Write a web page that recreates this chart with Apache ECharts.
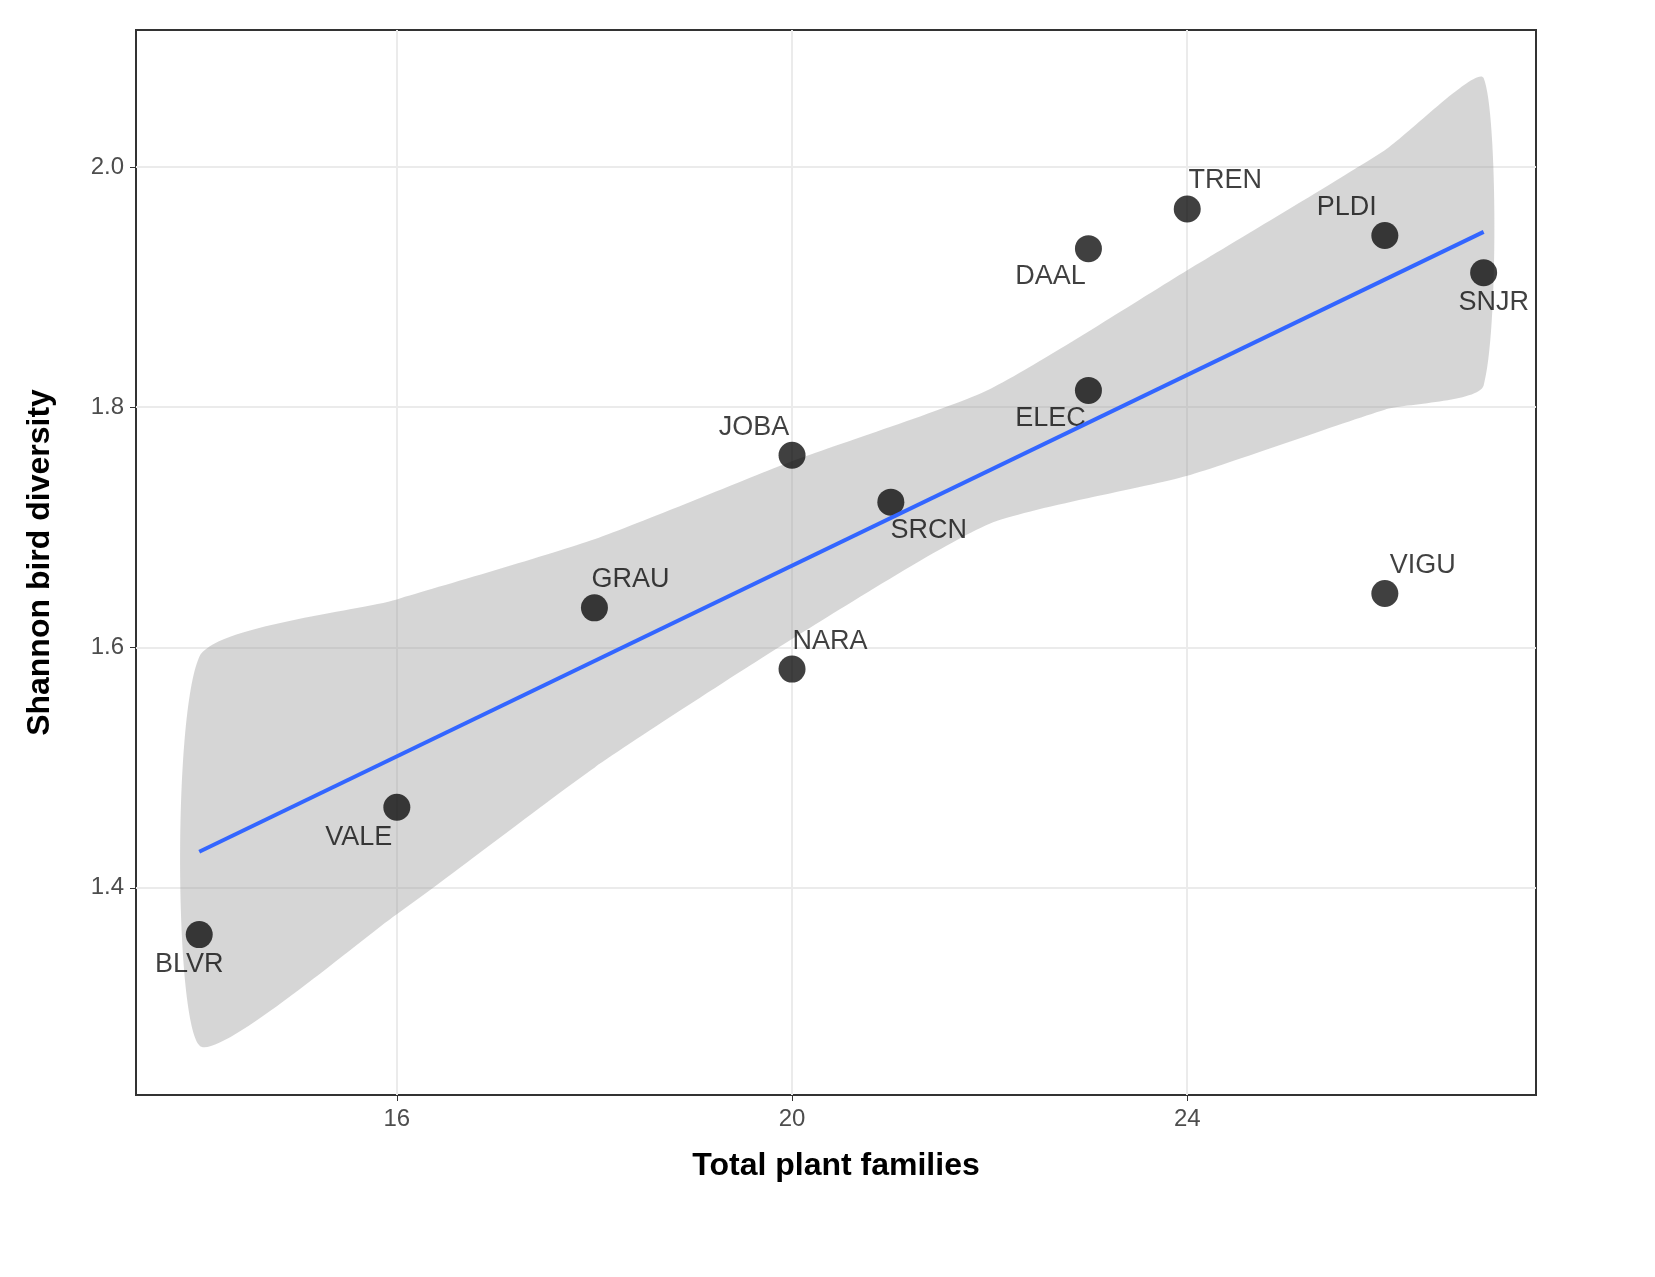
<!DOCTYPE html>
<html>
<head>
<meta charset="utf-8">
<script src="https://cdn.jsdelivr.net/npm/echarts@6/dist/echarts.min.js"></script>
<style>html,body{margin:0;padding:0;background:#fff}#c{width:1655px;height:1277px}</style>
</head>
<body>
<div id="c"></div>
<script>
const sites = ["BLVR","VALE","GRAU","NARA","JOBA","SRCN","ELEC","DAAL","TREN","PLDI","VIGU","SNJR"]
const families = [14,16,18,20,20,21,23,23,24,26,26,27]
const diversity = [1.361,1.467,1.633,1.582,1.760,1.721,1.814,1.932,1.965,1.943,1.645,1.912]
// label placement per site: [dx, dy]
const labelOffsets = [[-10,30],[-38,30],[36,-28],[38,-28],[-38,-28],[38,28],[-38,28],[-38,28],[38,-28],[-38,-28],[38,-28],[10,30]]

const fitX = [14,27]
const fitY = [1.430,1.946]
const bandX = [14,16,18,20,22,24,26,27]
const bandLow = [1.269,1.378,1.500,1.607,1.703,1.743,1.798,1.818]
const bandHigh = [1.592,1.640,1.690,1.755,1.815,1.914,2.014,2.074]

const xTicks = [16,20,24]
const yTicks = [1.4,1.6,1.8,2.0]

const font = "Liberation Sans, Arial, sans-serif"
const chart = echarts.init(document.getElementById("c"))

const axisCommon = {
    axisLine: {show: false},
    axisTick: {show: true, length: 6, lineStyle: {color: "#333"}},
    splitLine: {show: true, lineStyle: {color: "#ebebeb", width: 2}},
    nameLocation: "middle",
    nameTextStyle: {fontFamily: font, fontWeight: "bold", fontSize: 32, color: "#000"}
}

chart.setOption({
    animation: false,
    grid: {left: 136, right: 119, top: 30, bottom: 182, show: true, borderColor: "#333", borderWidth: 2, backgroundColor: "#fff"},
    xAxis: Object.assign({}, axisCommon, {
        type: "value", min: 13.36, max: 27.53,
        name: "Total plant families", nameGap: 55,
        axisTick: Object.assign({}, axisCommon.axisTick, {customValues: xTicks}),
        axisLabel: {customValues: xTicks, fontFamily: font, fontSize: 24, color: "#4d4d4d", margin: 12}
    }),
    yAxis: Object.assign({}, axisCommon, {
        type: "value", min: 1.2275, max: 2.114,
        name: "Shannon bird diversity", nameGap: 80,
        axisTick: Object.assign({}, axisCommon.axisTick, {customValues: yTicks}),
        axisLabel: {customValues: yTicks, fontFamily: font, fontSize: 24, color: "#4d4d4d", margin: 12,
            formatter: v => v.toFixed(1)}
    }),
    series: [
        {
            type: "custom", silent: true,
            data: bandX.map((x, i) => [x, bandLow[i], bandHigh[i]]),
            renderItem: (params, api) => {
                if (params.dataIndex !== 0) return null
                const upper = bandX.map((x, i) => api.coord([x, bandHigh[i]]))
                const lower = bandX.map((x, i) => api.coord([x, bandLow[i]])).reverse()
                return {
                    type: "polygon",
                    shape: {points: upper.concat(lower), smooth: 0.2},
                    style: {fill: "#999999", opacity: 0.4}
                }
            }
        },
        {
            type: "line", symbol: "none",
            lineStyle: {color: "#3366ff", width: 4},
            data: fitX.map((x, i) => [x, fitY[i]])
        },
        {
            type: "scatter", symbolSize: 27,
            itemStyle: {color: "#000", opacity: 0.75},
            label: {show: true, formatter: p => sites[p.dataIndex], fontFamily: font, fontSize: 27, color: "#000"},
            data: families.map((x, i) => ({
                value: [x, diversity[i]],
                label: {position: "inside", offset: labelOffsets[i]}
            }))
        }
    ]
})
</script>
</body>
</html>
